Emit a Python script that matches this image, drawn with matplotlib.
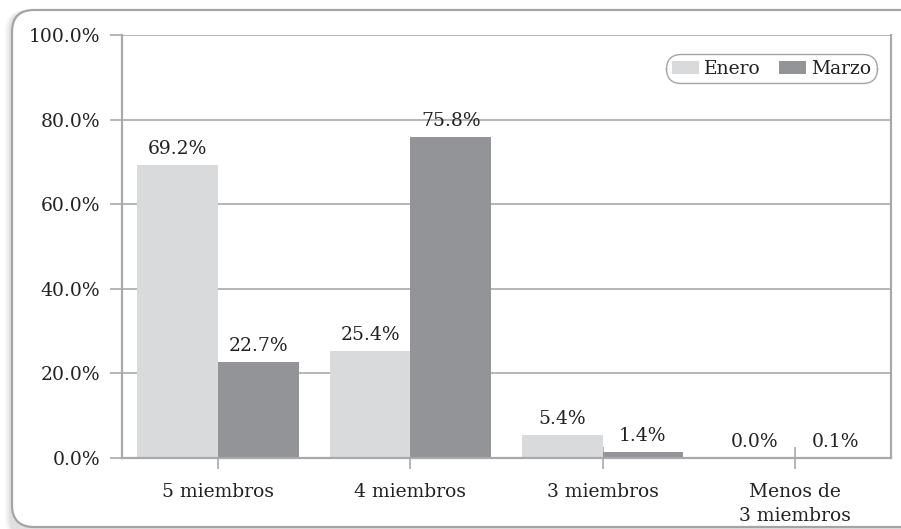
import matplotlib
matplotlib.use("Agg")
import matplotlib.pyplot as plt
import numpy as np
from matplotlib.patches import FancyBboxPatch
from matplotlib.ticker import FuncFormatter

categories = ["5 miembros", "4 miembros", "3 miembros", "Menos de\n3 miembros"]
enero = [69.2, 25.4, 5.4, 0.0]
marzo = [22.7, 75.8, 1.4, 0.1]
series_names = ["Enero", "Marzo"]

plt.rcParams['font.family'] = ['DejaVu Serif']
fs = 13.5
txt = "#222222"
line_gray = "#a9a9ab"

fig = plt.figure(figsize=(9.01, 5.29), dpi=100)

# outer rounded frame with a soft shadow on the left
W, H = 901, 529
for i, a in enumerate([0.05, 0.04, 0.03]):
    sh = FancyBboxPatch((12 - 3 - i * 2, -10), 920, 520 + 9,
                        boxstyle="round,pad=0,rounding_size=22",
                        transform=None, facecolor="#000000", alpha=a,
                        edgecolor="none", zorder=0)
    fig.patches.append(sh)
frame = FancyBboxPatch((12, 529 - 527), 920, 517,
                       boxstyle="round,pad=0,rounding_size=22",
                       transform=None, facecolor="white",
                       edgecolor="#a4a4a6", linewidth=1.6, zorder=1)
fig.patches.append(frame)

ax = fig.add_axes([122 / W, 1 - 458 / H, (891 - 122) / W, (458 - 35) / H])
ax.set_zorder(2)
ax.patch.set_alpha(0)

x = np.arange(len(categories))
w = 0.42
b1 = ax.bar(x - w / 2, enero, w, color="#d9dadc", label=series_names[0], zorder=3)
b2 = ax.bar(x + w / 2, marzo, w, color="#939497", label=series_names[1], zorder=3)

for bars in (b1, b2):
    ax.bar_label(bars, labels=[f"{v:.1f}%" for v in bars.datavalues],
                 padding=5, fontsize=fs, color=txt)

ax.set_xlim(-0.5, 3.5)
ax.set_ylim(0, 100)
ax.set_yticks([0, 20, 40, 60, 80, 100])
ax.yaxis.set_major_formatter(FuncFormatter(lambda v, p: f"{v:.1f}%"))
ax.set_xticks(x)
ax.set_xticklabels(categories, fontsize=fs, color=txt, linespacing=1.4)
ax.tick_params(axis="y", direction="out", length=8.6, width=1.2,
               color=line_gray, labelsize=fs, labelcolor=txt, pad=7)
ax.tick_params(axis="x", direction="inout", length=16.5, width=1.2,
               color=line_gray, pad=10)
ax.yaxis.grid(True, color=line_gray, linewidth=1.2, zorder=0)

for s in ["left", "right", "bottom"]:
    ax.spines[s].set_color(line_gray)
    ax.spines[s].set_linewidth(1.6)
ax.spines["top"].set_visible(False)
ax.spines["bottom"].set_zorder(4)

leg = ax.legend(loc="upper right", bbox_to_anchor=(0.982, 0.955), ncol=2,
                fontsize=fs, frameon=True, fancybox=True,
                handlelength=1.44, handleheight=0.7, handletextpad=0.27,
                columnspacing=1.0, borderpad=0.3, borderaxespad=0)
leg.get_frame().set_edgecolor("#8e8e90")
leg.get_frame().set_linewidth(1.0)
leg.get_frame().set_boxstyle("round,pad=0,rounding_size=0.8")
for t in leg.get_texts():
    t.set_color(txt)

fig.savefig("out.png", dpi=100)
